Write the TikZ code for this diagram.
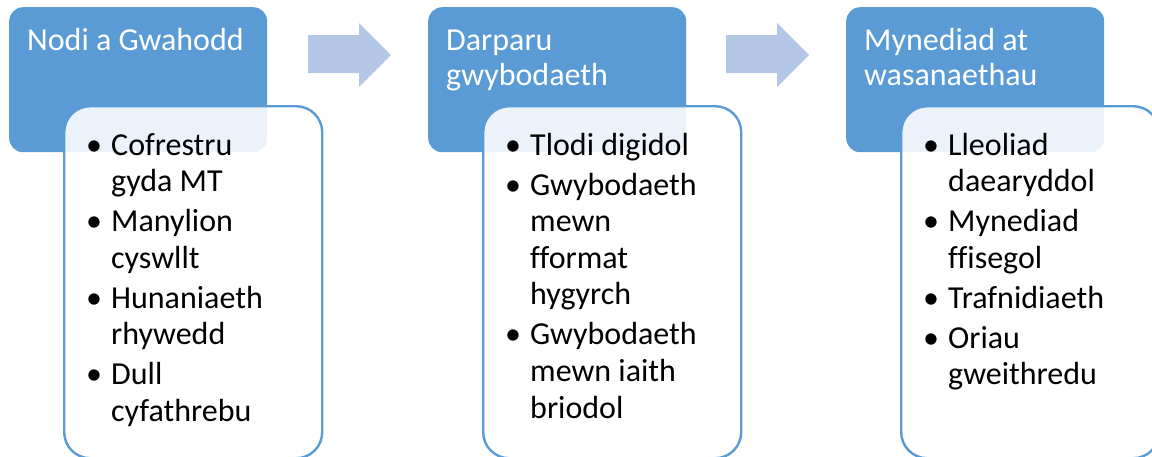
\documentclass[tikz,border=0pt]{standalone}
\usepackage{fontspec}
\setmainfont{Carlito}[Ligatures={NoCommon}]
\definecolor{boxblue}{HTML}{5B9BD5}
\definecolor{arrowblue}{HTML}{B4C7E7}
\begin{document}
\begin{tikzpicture}[x=1pt,y=-1pt,
  bluebox/.style={fill=boxblue, rounded corners=14pt, draw=none, anchor=north west, minimum width=258pt, minimum height=145pt, inner sep=0pt},
  listbox/.style={fill=white, fill opacity=0.88, draw=boxblue, draw opacity=1, line width=2.4pt, rounded corners=26pt, anchor=north west, minimum width=258pt, minimum height=352pt, inner sep=0pt},
  flowarrow/.style={fill=arrowblue, draw=none},
  titletext/.style={anchor=base west, inner sep=0pt, text=white, font=\fontsize{32}{35}\selectfont},
  itemtext/.style={anchor=base west, inner sep=0pt, text=black, font=\fontsize{32}{36.6}\selectfont},
  bullettext/.style={anchor=base, inner sep=0pt, text=black, font=\fontsize{32}{36.6}\selectfont}
]
\useasboundingbox (0,0) rectangle (1152,456);
\clip (0,0) rectangle (1152,456);

% blue header boxes
\node[bluebox] (b1) at (9,7) {};
\node[bluebox] (b2) at (428,7) {};
\node[bluebox] (b3) at (846,7) {};

% arrows
\fill[flowarrow] (308,35) -- (359,35) -- (359,23) -- (391,55) -- (359,87) -- (359,73) -- (308,73) -- cycle;
\fill[flowarrow] (726,35) -- (777,35) -- (777,23) -- (809,55) -- (777,87) -- (777,73) -- (726,73) -- cycle;

% list boxes
\node[listbox] (l1) at (63,105) {};
\node[listbox] (l2) at (482,105) {};
\node[listbox] (l3) at (900,105) {};

% titles
\node[titletext] (t1) at (27,50) {Nodi a Gwahodd};
\node[titletext] (t2) at (446,50) {\parbox[t]{240pt}{\raggedright Darparu\\gwybodaeth}};
\node[titletext] (t3) at (864,50) {\parbox[t]{240pt}{\raggedright Mynediad at\\wasanaethau}};

% list 1
\node[bullettext] (p11) at (94,155) {•};
\node[itemtext] (i11) at (111,155) {\parbox[t]{220pt}{\raggedright Cofrestru\\gyda MT}};
\node[bullettext] (p12) at (94,231.6) {•};
\node[itemtext] (i12) at (111,231.6) {\parbox[t]{220pt}{\raggedright Manylion\\cyswllt}};
\node[bullettext] (p13) at (94,308.2) {•};
\node[itemtext] (i13) at (111,308.2) {\parbox[t]{220pt}{\raggedright Hunaniaeth\\rhywedd}};
\node[bullettext] (p14) at (94,384.8) {•};
\node[itemtext] (i14) at (111,384.8) {\parbox[t]{220pt}{\raggedright Dull\\cyfathrebu}};

% list 2
\node[bullettext] (p21) at (513,155) {•};
\node[itemtext] (i21) at (530,155) {\parbox[t]{220pt}{\raggedright Tlodi digidol}};
\node[bullettext] (p22) at (513,195) {•};
\node[itemtext] (i22) at (530,195) {\parbox[t]{220pt}{\raggedright Gwybodaeth\\mewn\\fformat\\hygyrch}};
\node[bullettext] (p23) at (513,344.8) {•};
\node[itemtext] (i23) at (530,344.8) {\parbox[t]{220pt}{\raggedright Gwybodaeth\\mewn iaith\\briodol}};

% list 3
\node[bullettext] (p31) at (931,155) {•};
\node[itemtext] (i31) at (948,155) {\parbox[t]{220pt}{\raggedright Lleoliad\\daearyddol}};
\node[bullettext] (p32) at (931,231.6) {•};
\node[itemtext] (i32) at (948,231.6) {\parbox[t]{220pt}{\raggedright Mynediad\\ffisegol}};
\node[bullettext] (p33) at (931,308.2) {•};
\node[itemtext] (i33) at (948,308.2) {\parbox[t]{220pt}{\raggedright Trafnidiaeth}};
\node[bullettext] (p34) at (931,348.2) {•};
\node[itemtext] (i34) at (948,348.2) {\parbox[t]{220pt}{\raggedright Oriau\\gweithredu}};
\end{tikzpicture}
\end{document}
